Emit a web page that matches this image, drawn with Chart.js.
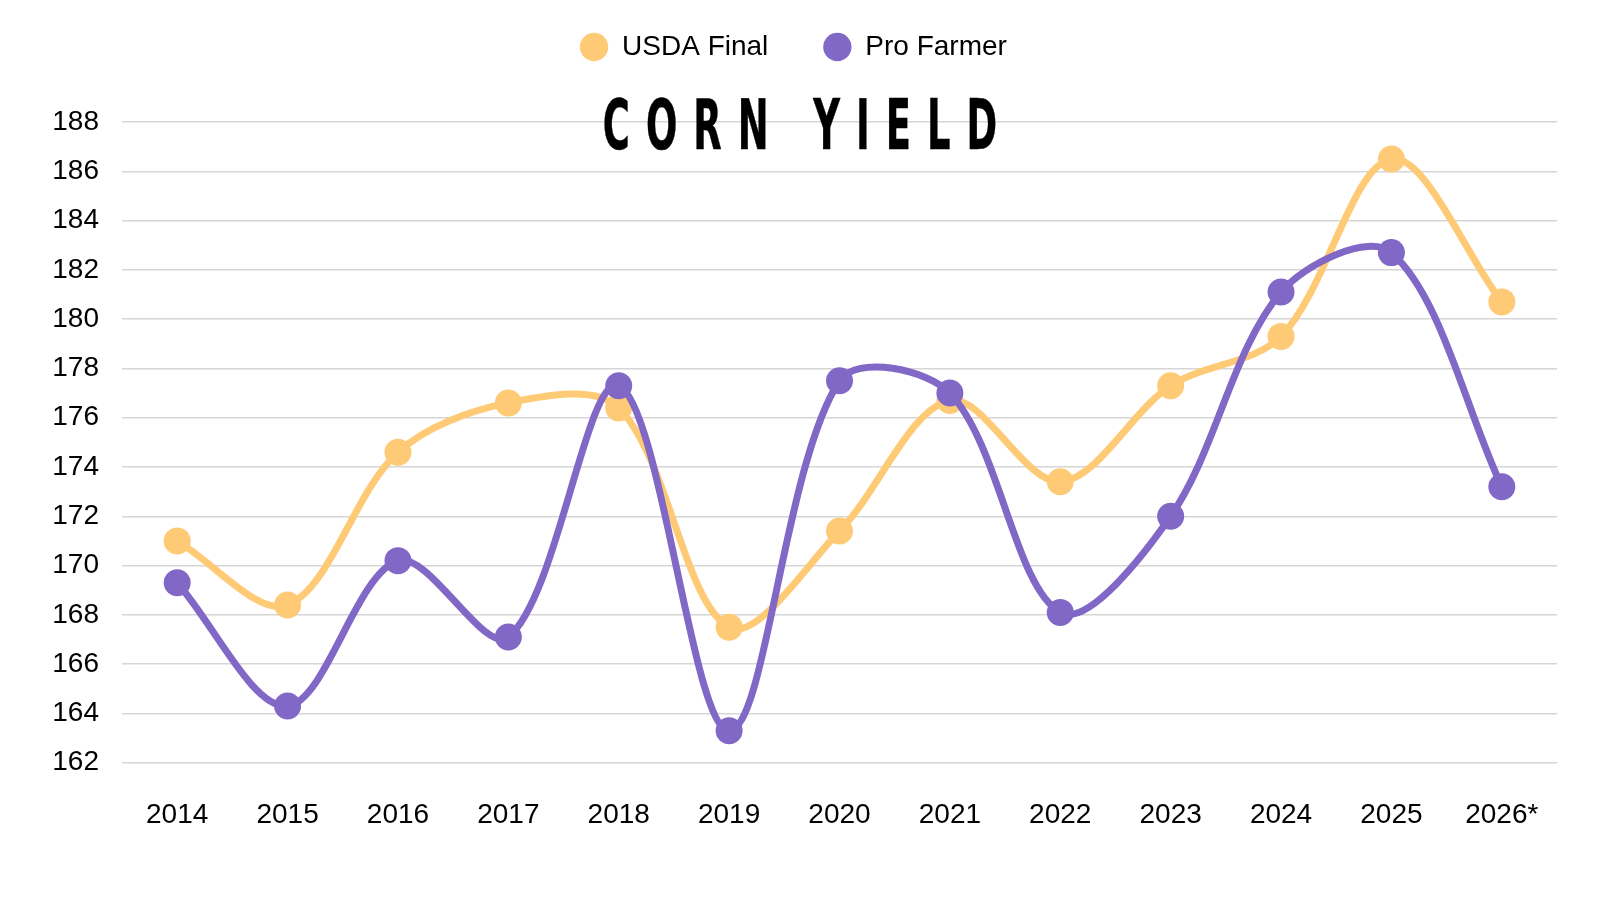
<!DOCTYPE html>
<html>
<head>
<meta charset="utf-8">
<script src="https://cdn.jsdelivr.net/npm/chart.js@4.4.1/dist/chart.umd.min.js"></script>
<style>
  html, body { margin: 0; padding: 0; background: #fff; }
  .wrap { position: relative; width: 1600px; height: 900px; }
  .title {
    position: absolute; left: 0; top: 91px; width: 1600px;
    text-align: center; pointer-events: none;
    font-family: "Liberation Sans Narrow", "DejaVu Sans Condensed", sans-serif;
    font-weight: bold; font-size: 41px; line-height: 41px;
    letter-spacing: 16px; padding-left: 16px; box-sizing: border-box;
    color: #000; -webkit-text-stroke: 0.3px #000;
    transform: scaleY(1.7); transform-origin: 50% 0;
  }
</style>
</head>
<body>
<div class="wrap">
  <canvas id="chart" width="1600" height="900"></canvas>
  <div class="title">CORN YIELD</div>
</div>
<script>
const years = ["2014", "2015", "2016", "2017", "2018", "2019", "2020", "2021", "2022", "2023", "2024", "2025", "2026*"];
const usdaFinal = [171.0, 168.4, 174.6, 176.6, 176.4, 167.5, 171.4, 176.7, 173.4, 177.3, 179.3, 186.5, 180.7];
const proFarmer = [169.3, 164.3, 170.2, 167.1, 177.3, 163.3, 177.5, 177.0, 168.1, 172.0, 181.1, 182.7, 173.2];
const yTicks = [162, 164, 166, 168, 170, 172, 174, 176, 178, 180, 182, 184, 186, 188];

const orange = "#FFCA75";
const purple = "#8168C7";

// push the plot area down below the legend, and nudge the legend right a bit
const legendMargin = {
  id: "legendMargin",
  beforeInit(chart) {
    const fit = chart.legend.fit;
    chart.legend.fit = function () {
      fit.bind(chart.legend)();
      this.height += 51;
    };
  },
  afterLayout(chart) {
    chart.legend.left += 30;
  },
};

const font = { family: "'Liberation Sans', Arial, sans-serif", size: 28 };

new Chart(document.getElementById("chart"), {
  type: "line",
  data: {
    labels: years,
    datasets: [
      {
        label: "USDA Final",
        data: usdaFinal,
        borderColor: orange,
        backgroundColor: orange,
        pointBackgroundColor: orange,
        order: 1,
      },
      {
        label: "Pro Farmer",
        data: proFarmer,
        borderColor: purple,
        backgroundColor: purple,
        pointBackgroundColor: purple,
        order: 0,
      },
    ],
  },
  options: {
    responsive: false,
    animation: false,
    events: [],
    layout: { padding: { top: -22, right: 43, bottom: 0, left: 0 } },
    elements: {
      line: { borderWidth: 7, tension: 0.33, fill: false },
      point: { radius: 13.5, borderWidth: 0, hoverRadius: 13.5 },
    },
    plugins: {
      legend: {
        position: "top",
        labels: {
          usePointStyle: true,
          pointStyle: "circle",
          boxWidth: 28,
          boxHeight: 20,
          padding: 55,
          color: "#000",
          font: font,
          sort: (a, b) => a.datasetIndex - b.datasetIndex,
        },
      },
      tooltip: { enabled: false },
    },
    scales: {
      x: {
        offset: true,
        grid: { display: false, drawTicks: false },
        border: { display: false },
        ticks: { color: "#000", font: font, padding: 36, maxRotation: 0 },
        afterFit(scale) { scale.height = 137.3; },
      },
      y: {
        min: 162,
        max: 188,
        afterBuildTicks(scale) { scale.ticks = yTicks.map(v => ({ value: v })); },
        grid: { color: "#d6d6d6", lineWidth: 1.5, drawTicks: false },
        border: { display: false },
        ticks: { color: "#000", font: font, padding: 23 },
        afterFit(scale) { scale.width = 122; },
      },
    },
  },
  plugins: [legendMargin],
});
</script>
</body>
</html>
